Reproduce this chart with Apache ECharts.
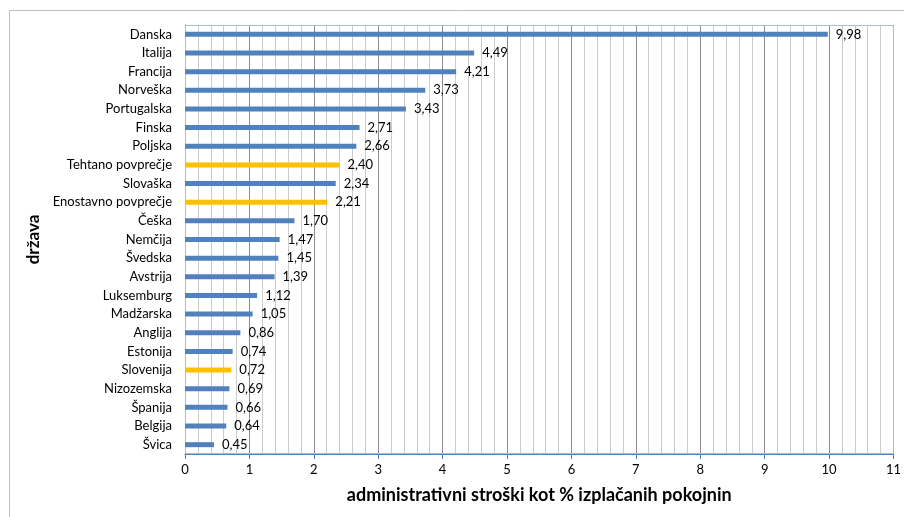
<!DOCTYPE html>
<html>
<head>
<meta charset="utf-8">
<script src="https://cdn.jsdelivr.net/npm/echarts@6/dist/echarts.min.js"></script>
<style>
html, body { margin: 0; padding: 0; background: #fff; }
#chart { width: 904px; height: 517px; }
</style>
</head>
<body>
<div id="chart"></div>
<script>
var countries = ['Danska', 'Italija', 'Francija', 'Norveška', 'Portugalska', 'Finska', 'Poljska',
    'Tehtano povprečje', 'Slovaška', 'Enostavno povprečje', 'Češka', 'Nemčija', 'Švedska',
    'Avstrija', 'Luksemburg', 'Madžarska', 'Anglija', 'Estonija', 'Slovenija', 'Nizozemska',
    'Španija', 'Belgija', 'Švica'];
var costs = [9.98, 4.49, 4.21, 3.73, 3.43, 2.71, 2.66, 2.40, 2.34, 2.21, 1.70, 1.47, 1.45,
    1.39, 1.12, 1.05, 0.86, 0.74, 0.72, 0.69, 0.66, 0.64, 0.45];
var highlighted = ['Tehtano povprečje', 'Enostavno povprečje', 'Slovenija'];

var font = 'Lato, "Open Sans", sans-serif';

// 基于准备好的dom，初始化echarts实例
var myChart = echarts.init(document.getElementById('chart'));

var barData = costs.map(function (v, i) {
    return {
        value: v,
        itemStyle: { color: highlighted.indexOf(countries[i]) >= 0 ? '#ffc000' : '#4f81bd' }
    };
});

var option = {
    animation: false,
    textStyle: { fontFamily: font },
    graphic: [{
        type: 'rect',
        shape: { x: 9.5, y: 10.5, width: 910, height: 520 },
        style: { fill: 'none', stroke: '#bfbfbf', lineWidth: 1 },
        z: -1
    }, {
        type: 'rect',
        shape: { x: 185.5, y: 25.5, width: 708, height: 428 },
        style: { fill: 'none', stroke: '#a7bfde', lineWidth: 1 },
        z: 1
    }],
    grid: { left: 185, right: 10, top: 25, bottom: 63 },
    xAxis: {
        type: 'value',
        min: 0,
        max: 11,
        interval: 1,
        name: 'administrativni stroški kot % izplačanih pokojnin',
        nameLocation: 'middle',
        nameGap: 32,
        nameTextStyle: { fontFamily: font, fontSize: 18, fontWeight: 'bold', color: '#000' },
        axisLine: { show: true, lineStyle: { color: '#4f81bd', width: 1 } },
        axisTick: { show: true, length: 5, lineStyle: { color: '#4f81bd' } },
        axisLabel: { color: '#000', fontSize: 13, margin: 9 },
        splitLine: { show: true, lineStyle: { color: '#8c8c8c', width: 1 } },
        minorTick: { show: true, splitNumber: 5, length: 0 },
        minorSplitLine: { show: true, lineStyle: { color: '#cccccc', width: 1 } }
    },
    yAxis: {
        type: 'category',
        inverse: true,
        data: countries,
        name: 'država',
        nameLocation: 'middle',
        nameRotate: 90,
        nameGap: 132,
        nameTextStyle: { fontFamily: font, fontSize: 17, fontWeight: 'bold', color: '#000' },
        axisLine: { show: true, lineStyle: { color: '#4f81bd', width: 1 } },
        axisTick: { show: false },
        axisLabel: { color: '#000', fontSize: 13, margin: 13 },
        splitLine: { show: false }
    },
    series: [{
        type: 'bar',
        data: barData,
        barWidth: 5,
        label: {
            show: true,
            position: 'right',
            distance: 8,
            color: '#000',
            fontSize: 13,
            fontFamily: font,
            formatter: function (p) { return p.value.toFixed(2).replace('.', ','); }
        }
    }]
};
// 使用刚指定的配置项和数据显示图表。
myChart.setOption(option);
</script>
</body>
</html>
